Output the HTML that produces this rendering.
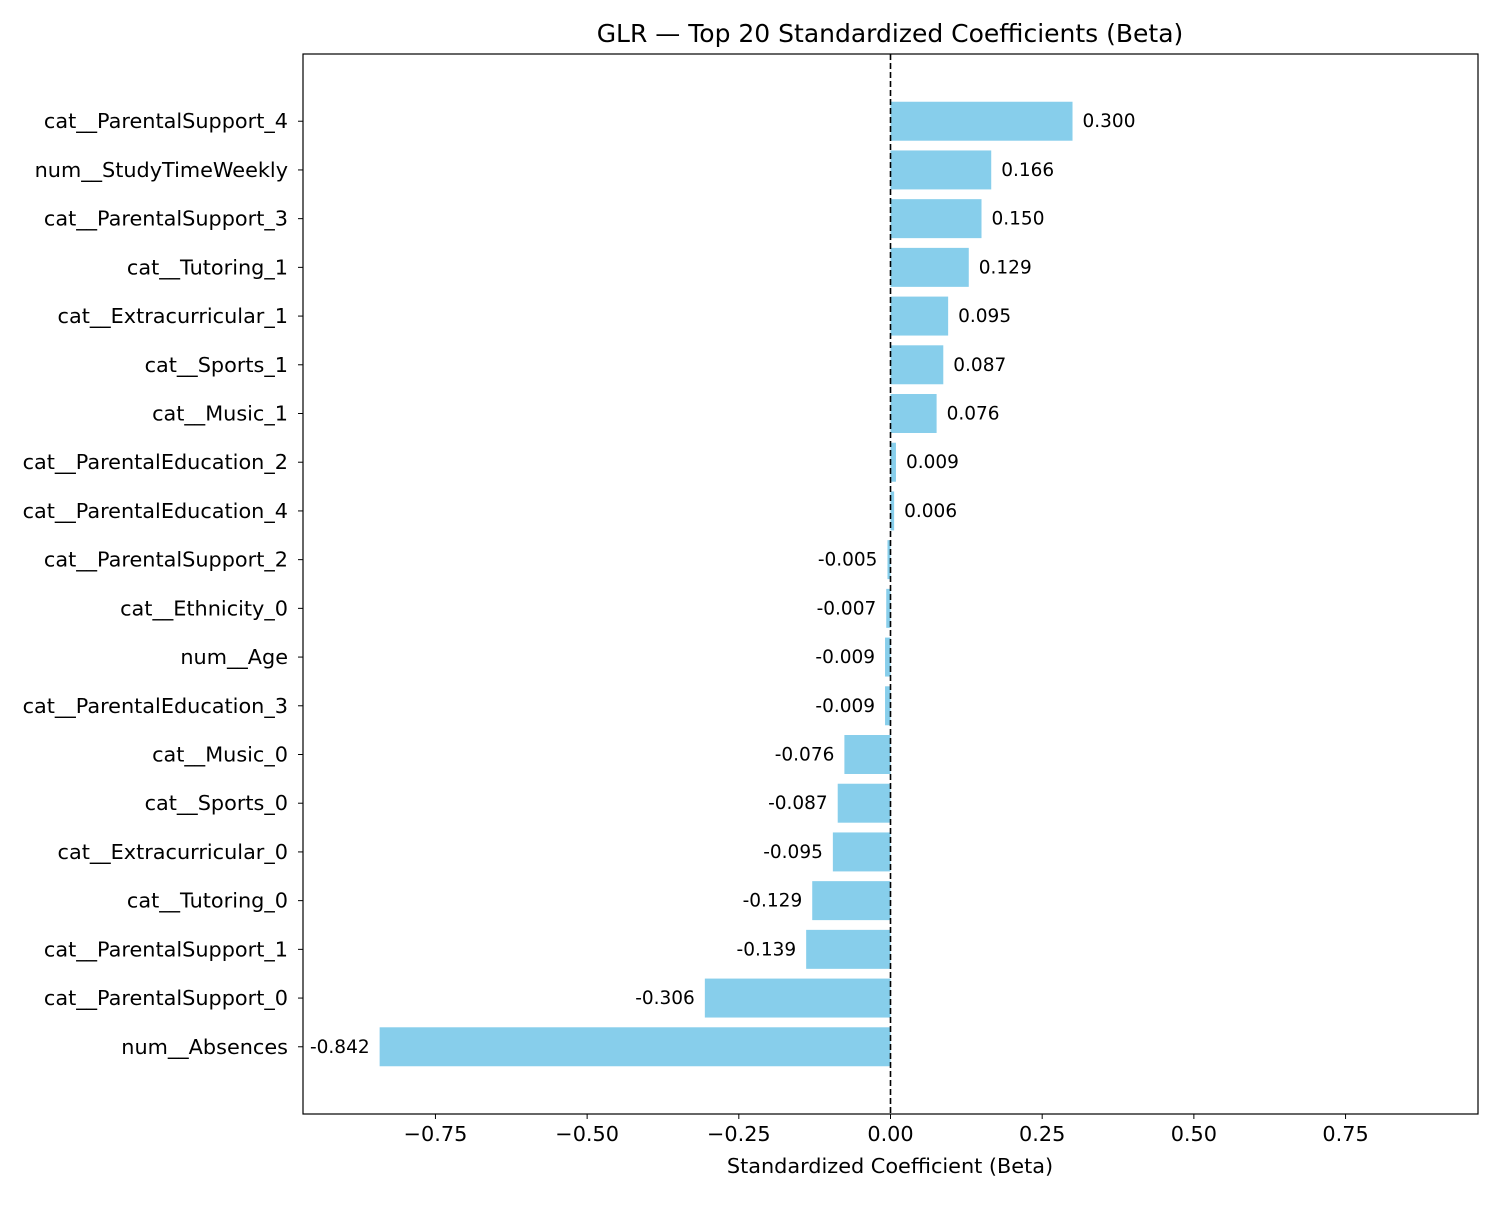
<!DOCTYPE html>
<html><head><meta charset="utf-8"><style>
body{margin:0;background:#fff;font-family:"Liberation Sans","DejaVu Sans",sans-serif;}
svg text{font-family:"DejaVu Sans","Liberation Sans",sans-serif;}
</style></head><body>
<svg id="chart" width="1500" height="1200" xmlns="http://www.w3.org/2000/svg">
<rect width="1500" height="1200" fill="#fff"/>
<text x="890" y="42" font-size="25" text-anchor="middle" fill="#000">GLR — Top 20 Standardized Coefficients (Beta)</text>
<g id="plot"></g>
<text x="890" y="1173" font-size="20.8" text-anchor="middle" fill="#000">Standardized Coefficient (Beta)</text>
</svg>
<script>
const categories=["cat__ParentalSupport_4","num__StudyTimeWeekly","cat__ParentalSupport_3","cat__Tutoring_1","cat__Extracurricular_1","cat__Sports_1","cat__Music_1","cat__ParentalEducation_2","cat__ParentalEducation_4","cat__ParentalSupport_2","cat__Ethnicity_0","num__Age","cat__ParentalEducation_3","cat__Music_0","cat__Sports_0","cat__Extracurricular_0","cat__Tutoring_0","cat__ParentalSupport_1","cat__ParentalSupport_0","num__Absences"];
const values=[0.300,0.166,0.150,0.129,0.095,0.087,0.076,0.009,0.006,-0.005,-0.007,-0.009,-0.009,-0.076,-0.087,-0.095,-0.129,-0.139,-0.306,-0.842];
const xTicks=[-0.75,-0.5,-0.25,0,0.25,0.5,0.75];
const xTickLabels=["−0.75","−0.50","−0.25","0.00","0.25","0.50","0.75"];

const NS="http://www.w3.org/2000/svg";
const L=303,R=1478,T=54,B=1114;
const lim=Math.max(...values.map(Math.abs))*1.15;
const x=v=>L+(v+lim)/(2*lim)*(R-L);
const n=categories.length;
const pad=1.38;
const step=(B-T)/(n-1+2*pad);
const y=i=>T+(pad+i)*step;
const g=document.getElementById('plot');
function mk(tag,attrs,txt){const e=document.createElementNS(NS,tag);for(const k in attrs)e.setAttribute(k,attrs[k]);if(txt!==undefined)e.textContent=txt;g.appendChild(e);return e;}
const bh=step*0.8;
values.forEach((v,i)=>{
  const x0=x(0),x1=x(v);
  const r=mk('rect',{x:Math.min(x0,x1),y:y(i)-bh/2,width:Math.abs(x1-x0),height:bh,fill:'#87ceeb'});
  
  
  const lbl=mk('text',{x:v>=0?x1+10:x1-10,y:y(i)+6,'font-size':'18.5','text-anchor':v>=0?'start':'end',fill:'#000'},v.toFixed(3));
  
  
  mk('line',{x1:L-5,x2:L,y1:y(i),y2:y(i),stroke:'#000','stroke-width':1});
  const tl=mk('text',{x:L-15,y:y(i)+7,'font-size':'20.8','text-anchor':'end',fill:'#000'},categories[i]);
  
  
});
xTicks.forEach((t,k)=>{
  mk('line',{x1:x(t),x2:x(t),y1:B,y2:B+5,stroke:'#000','stroke-width':1});
  const tl=mk('text',{x:x(t),y:B+27,'font-size':'20.8','text-anchor':'middle',fill:'#000'},xTickLabels[k]);
  
  
});
const zl=mk('line',{x1:x(0),x2:x(0),y1:T,y2:B,stroke:'#000','stroke-width':1.6,'stroke-dasharray':'6,3'});


const fr=mk('rect',{x:L,y:T,width:R-L,height:B-T,fill:'none',stroke:'#000','stroke-width':1.2});


</script>
</body></html>
